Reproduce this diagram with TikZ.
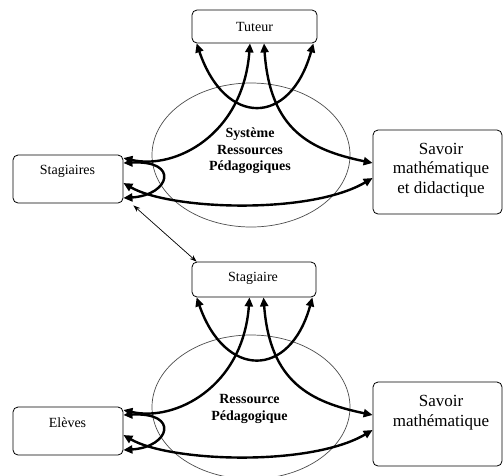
\documentclass[tikz,border=0pt]{standalone}
\usepackage{fontspec}
\setmainfont{Liberation Serif}
\usetikzlibrary{arrows.meta,shapes.geometric}
\newcommand\arrowset[4]{%
 \draw[thk] ([xshift=5pt]#1.south west) .. controls (225,{127+#4}) and (290,{127+#4}) .. ([xshift=-4pt]#1.south east);
 \draw[thk] ([xshift=-4.5pt]#1.south) .. controls (243,{135+#4}) and (175,{170+#4}) .. ([yshift=21pt]#2.east);
 \draw[thk] ([xshift=9.5pt]#1.south) .. controls (270,{130+#4}) and (310,{150+#4}) .. ([yshift=9pt]#3.west);
 \draw[thk] ([yshift=16pt]#2.east) .. controls (180,{160+#4}) and (170,{195+#4}) .. ([yshift=-19pt]#2.east);
 \draw[thk] ([yshift=-4pt]#2.east) .. controls (170,{210+#4}) and (310,{215+#4}) .. ([yshift=-6pt]#3.west);
}
\begin{document}
\begin{tikzpicture}[x=1pt,y=-1pt,
 box/.style={draw, line width=0.8pt, rounded corners=5pt, inner sep=0pt},
 small/.style={font=\fontsize{14}{16}\selectfont, inner sep=0pt},
 big/.style={font=\fontsize{17}{19.5}\selectfont, align=center, inner sep=0pt},
 mid/.style={font=\fontsize{14}{16.5}\selectfont\bfseries, align=center, inner sep=0pt},
 oval/.style={ellipse, draw=black!70, line width=0.7pt, inner sep=0pt},
 thk/.style={line width=2.4pt, {Triangle[length=9pt,width=8pt]}-{Triangle[length=9pt,width=8pt]}},
 thn/.style={line width=0.7pt, {Stealth[length=7pt,width=5pt]}-{Stealth[length=7pt,width=5pt]}}]
\useasboundingbox (0,0) rectangle (503,475);
% top part
\node[oval, minimum width=198pt, minimum height=144pt] (sys) at (251,155) {};
\node[mid] (syst) at (250,151) {Système\\Ressources\\Pédagogiques};
\node[box, minimum width=125pt, minimum height=33pt] (tut) at (254.5,26.5) {};
\node[small] (tutt) at (254.5,26.5) {Tuteur};
\node[box, minimum width=110pt, minimum height=48pt] (stag) at (68,179) {};
\node[small] (stagt) at (67.5,171) {Stagiaires};
\node[box, minimum width=129pt, minimum height=84pt] (sav) at (437.5,172) {};
\node[big] (savt) at (441,170) {Savoir\\mathématique\\et didactique};
\arrowset{tut}{stag}{sav}{0}
% bottom part
\node[oval, minimum width=198pt, minimum height=144pt] (res) at (251,407) {};
\node[mid] (rest) at (249.5,409) {Ressource\\Pédagogique};
\node[box, minimum width=124pt, minimum height=35pt] (stb) at (254,279.5) {};
\node[small] (stbt) at (253,278.5) {Stagiaire};
\node[box, minimum width=110pt, minimum height=48pt] (ele) at (68,431) {};
\node[small] (elet) at (67.5,423) {Elèves};
\node[box, minimum width=129pt, minimum height=84pt] (savb) at (437.5,424) {};
\node[big] (savbt) at (441,412.5) {Savoir\\mathématique};
\arrowset{stb}{ele}{savb}{252}
% link
\draw[thn] ([xshift=5pt]stb.north west) -- ([xshift=10pt,yshift=-2pt]stag.south east);
\end{tikzpicture}
\end{document}
